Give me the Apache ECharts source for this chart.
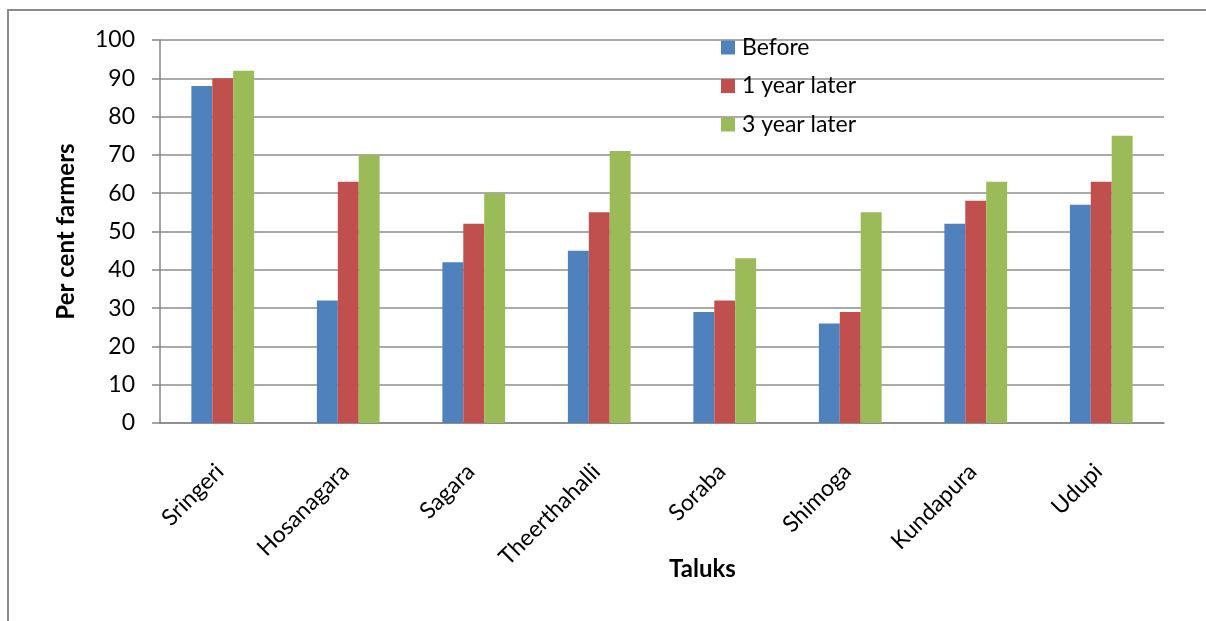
<!DOCTYPE html>
<html>
<head>
<meta charset="utf-8">
<script src="https://cdn.jsdelivr.net/npm/echarts@6/dist/echarts.min.js"></script>
<style>
  html, body { margin: 0; padding: 0; background: #fff; }
  #chart { width: 1206px; height: 621px; }
</style>
</head>
<body>
<div id="chart"></div>
<script>
// Taluk-wise share of farmers, before and after
const taluks = ['Sringeri', 'Hosanagara', 'Sagara', 'Theerthahalli', 'Soraba', 'Shimoga', 'Kundapura', 'Udupi'];
const before = [88, 32, 42, 45, 29, 26, 52, 57];
const oneYearLater = [90, 63, 52, 55, 32, 29, 58, 63];
const threeYearLater = [92, 70, 60, 71, 43, 55, 63, 75];
const seriesNames = ['Before', '1 year later', '3 year later'];
const seriesColors = ['#4F81BD', '#C0504D', '#9BBB59'];

const FONT = 'Lato, "Open Sans", sans-serif';

const chart = echarts.init(document.getElementById('chart'), null, { renderer: 'canvas' });

const values = [before, oneYearLater, threeYearLater];

chart.setOption({
  backgroundColor: '#ffffff',
  animation: false,
  textStyle: { fontFamily: FONT, color: '#000' },
  grid: { left: 160, right: 42, top: 40, bottom: 198, containLabel: false },
  legend: {
    orient: 'vertical',
    left: 721,
    top: 36,
    padding: 0,
    itemWidth: 14,
    itemHeight: 14,
    itemGap: 15.5,
    icon: 'rect',
    textStyle: { fontFamily: FONT, fontSize: 23, lineHeight: 20, color: '#000', padding: [0, 0, 0, 2] },
    data: seriesNames
  },
  xAxis: {
    type: 'category',
    data: taluks,
    axisLine: { show: true, lineStyle: { color: '#868686', width: 1.5 } },
    axisTick: { show: false },
    axisLabel: { rotate: 45, margin: 42, fontSize: 23, color: '#000', fontFamily: FONT, interval: 0, padding: [0, 4, 0, 0] },
    splitLine: { show: false }
  },
  yAxis: {
    type: 'value',
    min: 0,
    max: 100,
    interval: 10,
    name: 'Per cent farmers',
    nameLocation: 'middle',
    nameGap: 82,
    nameTextStyle: { fontFamily: FONT, fontSize: 24, fontWeight: 'bold', color: '#000' },
    axisLine: { show: true, lineStyle: { color: '#868686', width: 1.5 } },
    axisTick: { show: true, length: 8, lineStyle: { color: '#868686', width: 1.5 } },
    axisLabel: { margin: 25, fontSize: 23, color: '#000', fontFamily: FONT },
    splitLine: { show: true, lineStyle: { color: '#8e8e8e', width: 1.5 } }
  },
  series: seriesNames.map((name, i) => ({
    name: name,
    type: 'bar',
    data: values[i],
    barGap: '0%',
    barCategoryGap: '50%',
    itemStyle: { color: seriesColors[i] }
  })),
  graphic: [
    {
      type: 'polyline',
      shape: { points: [[8, 640], [8, 10], [1210, 10]] },
      style: { stroke: '#8a8a8a', lineWidth: 2, fill: null },
      silent: true
    },
    {
      type: 'text',
      left: 669,
      top: 557,
      style: { text: 'Taluks', font: 'bold 24px ' + FONT, fill: '#000' },
      silent: true
    }
  ]
});
</script>
</body>
</html>
